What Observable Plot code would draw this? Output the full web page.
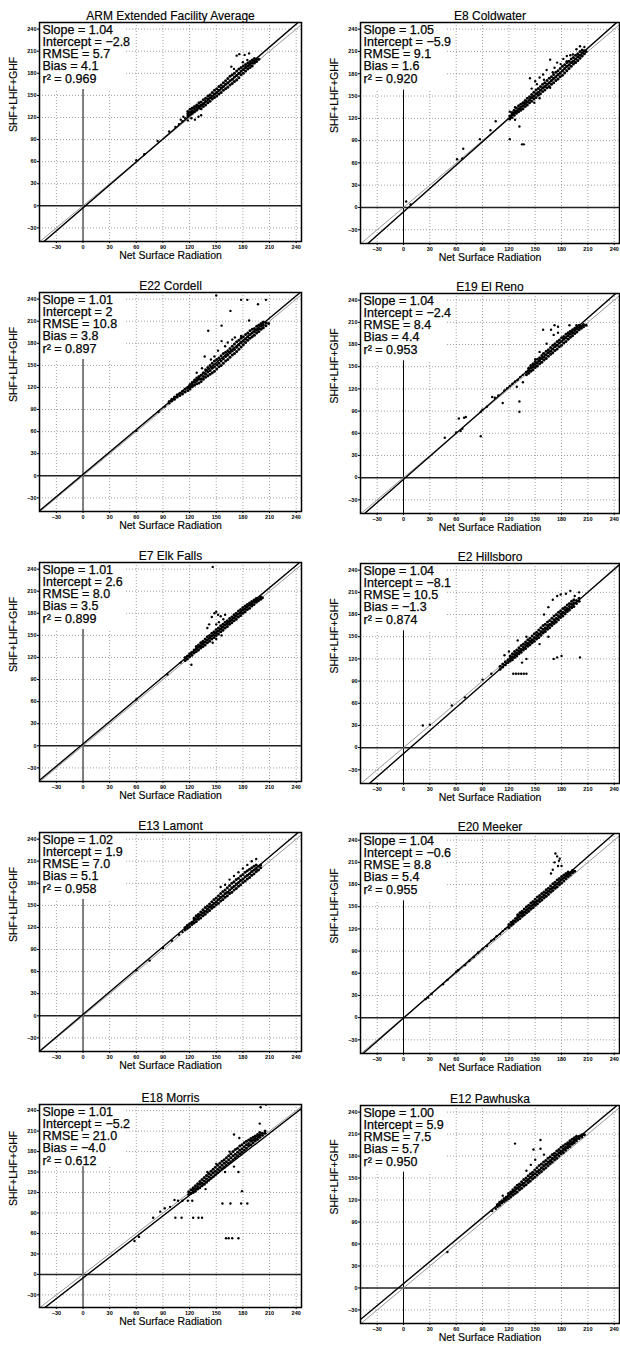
<!DOCTYPE html>
<html><head><meta charset="utf-8">
<script src="https://cdn.jsdelivr.net/npm/d3@7"></script>
<script src="https://cdn.jsdelivr.net/npm/@observablehq/plot@0.6"></script>
<style>
html,body{margin:0;padding:0;background:#fff;}
#root{position:relative;width:620px;height:1346px;overflow:hidden;font-family:"Liberation Sans",Arial,sans-serif;}
#root svg{position:absolute;overflow:visible;background:transparent;}
</style></head><body>
<div id="root"></div>
<script>
// ---- data ----
const titles = ["ARM Extended Facility Average","E8 Coldwater","E22 Cordell","E19 El Reno","E7 Elk Falls","E2 Hillsboro","E13 Lamont","E20 Meeker","E18 Morris","E12 Pawhuska"];
const slopes = [1.04,1.05,1.01,1.04,1.01,1.04,1.02,1.04,1.01,1.00];
const intercepts = ["−2.8","−5.9","2","−2.4","2.6","−8.1","1.9","−0.6","−5.2","5.9"];
const rmse = ["5.7","9.1","10.8","8.4","8.0","10.5","7.0","8.8","21.0","7.5"];
const bias = ["4.1","1.6","3.8","4.4","3.5","−1.3","5.1","5.4","−4.0","5.7"];
const r2 = ["0.969","0.920","0.897","0.953","0.899","0.874","0.958","0.955","0.612","0.950"];
const tickValues = [-30,0,30,60,90,120,150,180,210,240];
const xLabel = "Net Surface Radiation";
const yLabel = "SHF+LHF+GHF";

// dense clusters: each row is [x, y, y, ...] (points sharing one x)
const bandARM = [[118,122,125,128],[120.5,124,127,131],[123,126,129,133],[125.5,128,132,135],[128,130,134,137],[130.5,133,136,140],[133,132,137,141],[135.5,135,139,144],[138,137,142,146],[140.5,140,145,149],[143,142,147,151],[145.5,145,149,154],[148,147,152,157],[150.5,149,154,159],[153,152,157,162],[155.5,154,160,164],[158,157,162,167],[160.5,159,165,170],[163,161,167,173],[165.5,164,170,176],[168,166,172,178],[170.5,169,175,180],[173,171,177,183],[175.5,174,180,186],[178,178,183,188],[180.5,180,185,190],[183,183,188,192],[185.5,186,190,194],[188,188,192,196],[190.5,190,194,198],[193,194,197,200],[195.5,196,199],[198,199]];
const bandE8 = [[121,119,123],[123.5,121,125,128],[126,124,128,131],[128.5,127,130,134],[131,129,133,137],[133.5,131,135,139],[136,133,137,141],[138.5,136,140,144],[141,138,142,147],[143.5,141,145,149],[146,143,148,152],[148.5,146,150,155],[151,148,153,158],[153.5,151,155,160],[156,153,158,163],[158.5,156,161,166],[161,158,163,168],[163.5,161,166,171],[166,163,168,174],[168.5,166,171,176],[171,168,174,179],[173.5,171,176,182],[176,173,179,184],[178.5,176,181,187],[181,178,184,190],[183.5,181,187,192],[186,184,190,195],[188.5,187,192,197],[191,190,195,200],[193.5,193,197,202],[196,195,200,205],[198.5,198,203,207],[201,201,205,210],[203.5,204,208,212],[206,207,211],[208,210]];
const bandE22 = [[97,99,101],[100,102,104],[103,104,107],[106,107,110],[109,109,112],[112,111,115],[115,114,118],[118,116,120],[120.5,118,121,124],[123,121,124,127],[125.5,123,127,130],[128,125,129,133],[130.5,126,131,135],[133,128,132,137],[135.5,131,135,140],[138,134,138,144],[140.5,136,141,147],[143,138,143,150],[145.5,140,146,153],[148,142,148,156],[150.5,145,151,158],[153,148,153,160],[155.5,150,156,163],[158,153,159,166],[160.5,156,162,168],[163,158,164,170],[165.5,161,167,173],[168,164,170,176],[170.5,166,172,179],[173,169,175,182],[175.5,172,178,184],[178,175,181,187],[180.5,178,183,189],[183,181,186,192],[185.5,184,189,194],[188,187,192,197],[190.5,189,194,199],[193,191,196,200],[195.5,194,198,203],[198,196,200,205],[200.5,199,203,207],[203,201,205,209],[206,204,208],[209,207]];
const bandE19 = [[140,139,143],[142.5,141,145,148],[145,144,148,151],[147.5,146,150,154],[150,149,153,157],[152.5,151,155,160],[155,154,158,162],[157.5,156,161,165],[160,159,163,168],[162.5,161,166,171],[165,164,169,173],[167.5,167,171,176],[170,169,174,179],[172.5,172,177,181],[175,174,179,184],[177.5,177,182,186],[180,179,184,189],[182.5,182,187,191],[185,184,189,194],[187.5,187,192,196],[190,190,194,198],[192.5,192,196,200],[195,195,199,202],[197.5,197,201,204],[200,200,203,206],[202.5,202,205],[205,204,207],[208,206]];
const bandE7 = [[115,116,120],[117.5,118,122],[120,121,125],[122.5,123,127],[125,126,130],[127.5,128,132,135],[130,130,134,137],[132.5,133,136,140],[135,135,139,142],[137.5,137,141,145],[140,140,144,148],[142.5,142,146,150],[145,145,149,153],[147.5,147,151,155],[150,150,154,158],[152.5,152,156,160],[155,155,159,163],[157.5,157,161,165],[160,160,164,168],[162.5,162,166,170],[165,165,169,173],[167.5,167,171,175],[170,170,174,178],[172.5,172,176,180],[175,175,179,183],[177.5,177,181,185],[180,180,184,188],[182.5,182,186,190],[185,185,189,192],[187.5,187,191,194],[190,190,193,196],[192.5,192,196,198],[195,195,198,200],[197.5,197,200],[200,199,202],[202,201]];
const bandE2 = [[110,106,110],[113,109,113],[116,112,116],[119,115,119],[121.5,117,121,124],[124,119,123,127],[126.5,122,126,130],[129,124,128,132],[131.5,127,131,135],[134,129,133,138],[136.5,132,136,140],[139,134,139,143],[141.5,137,141,146],[144,139,144,148],[146.5,142,146,151],[149,144,149,154],[151.5,147,152,156],[154,149,154,159],[156.5,152,157,162],[159,155,160,165],[161.5,157,162,167],[164,160,165,170],[166.5,162,167,172],[169,165,170,175],[171.5,168,173,178],[174,170,175,180],[176.5,173,178,183],[179,176,181,185],[181.5,178,183,188],[184,181,186,190],[186.5,184,188,193],[189,186,191,195],[191.5,189,194,198],[194,191,196,200],[197,195,199],[200,198,202]];
const bandE13 = [[115,117,120],[117.5,119,123],[120,121,125],[122.5,124,127],[125,126,130,133],[127.5,128,132,136],[130,131,135,138],[132.5,133,137,141],[135,136,140,144],[137.5,138,142,147],[140,141,145,149],[142.5,143,148,152],[145,146,150,155],[147.5,148,153,158],[150,151,155,160],[152.5,153,158,163],[155,156,161,166],[157.5,158,163,169],[160,161,166,171],[162.5,163,168,174],[165,166,171,177],[167.5,168,174,180],[170,171,176,182],[172.5,173,179,185],[175,176,181,187],[177.5,178,184,190],[180,181,186,192],[182.5,183,189,195],[185,186,191,197],[187.5,188,193,199],[190,191,196,201],[192.5,193,198,203],[195,196,200,205],[197.5,198,203],[200,201,205]];
const bandE20 = [[120,122,126],[122.5,125,129],[125,127,131],[127.5,130,134],[130,132,136,139],[132.5,134,138,142],[135,137,141,144],[137.5,139,143,147],[140,142,146,150],[142.5,144,148,152],[145,147,151,155],[147.5,149,153,157],[150,152,156,160],[152.5,154,158,163],[155,157,161,165],[157.5,159,163,168],[160,162,166,170],[162.5,164,169,173],[165,167,171,175],[167.5,170,174,178],[170,172,176,181],[172.5,175,179,183],[175,177,181,186],[177.5,180,184,188],[180,182,187,191],[182.5,185,189,193],[185,188,192,195],[187.5,191,194,197],[190,193,196],[192.5,196,199],[195,198]];
const bandE18 = [[119,117,121],[121.5,119,124],[124,120,124,127],[126.5,122,126,130],[129,125,129,133],[131.5,127,132,136],[134,130,134,139],[136.5,132,137,142],[139,135,140,145],[141.5,138,143,148],[144,141,146,151],[146.5,143,149,154],[149,146,151,157],[151.5,149,154,160],[154,152,157,163],[156.5,155,160,166],[159,157,163,168],[161.5,160,165,171],[164,163,168,174],[166.5,165,171,177],[169,168,174,180],[171.5,171,176,183],[174,174,179,185],[176.5,177,182,188],[179,179,184,190],[181.5,182,187,193],[184,185,190,195],[186.5,188,192,197],[189,190,195,199],[191.5,193,197,201],[194,196,199,203],[196.5,198,202,205],[199,201,204,208],[202,204,207],[205,207,210]];
const bandE12 = [[107,111,114],[109.5,113,117],[112,116,119],[114.5,118,122],[117,120,124],[119.5,122,126,129],[122,124,128,131],[124.5,127,131,134],[127,129,133,137],[129.5,131,136,140],[132,134,138,142],[134.5,136,141,145],[137,139,143,148],[139.5,141,146,150],[142,144,148,153],[144.5,146,151,156],[147,149,154,158],[149.5,151,156,161],[152,154,159,164],[154.5,157,161,167],[157,159,164,169],[159.5,162,167,172],[162,164,169,174],[164.5,167,172,177],[167,170,174,179],[169.5,172,177,182],[172,175,180,184],[174.5,177,182,187],[177,180,185,189],[179.5,183,187,192],[182,185,190,194],[184.5,188,192,196],[187,191,195,198],[189.5,193,197,201],[192,196,199,203],[194.5,198,202,205],[197,201,204,207],[200,204,207],[203,206,209],[206,209]];

// scattered points [x, y]
const sparseARM = [[60,62],[69,70],[84,88],[97,101],[104,107],[108,111],[112,115],[115,119],[110,117],[113,121],[118,116],[122,119],[126,117],[130,121],[133,123],[167,189],[173,204],[176,206],[182,205],[187,207],[170,186],[180,195],[185,198]];
const sparseE8 = [[3,8],[8,4],[61,65],[67,66],[68,79],[87,92],[99,104],[105,116],[121,92],[132,109],[135,85],[137,85],[127,118],[121,129],[127,135],[137,141],[140,143],[144,174],[150,170],[155,175],[159,179],[167,199],[172,188],[175,195],[179,193],[186,197],[193,206],[197,213],[201,217],[206,216],[186,204],[155,147],[149,141],[167,161],[163,185],[182,200],[190,205],[146,160],[152,166],[160,172],[170,182]];
const sparseE22 = [[150,245],[178,239],[185,239],[206,239],[197,233],[166,224],[187,211],[156,204],[141,197],[137,162],[148,162],[156,183],[163,181],[171,188],[178,190],[144,158],[152,170],[160,176],[168,185],[128,140],[134,146],[92,94],[85,87],[60,61]];
const sparseE19 = [[47,54],[60,61],[63,80],[65,63],[67,66],[69,81],[71,82],[88,89],[90,92],[88,56],[95,96],[101,109],[104,108],[108,111],[113,101],[115,118],[118,121],[121,124],[124,127],[127,130],[130,132],[133,136],[136,139],[132,103],[132,89],[129,123],[136,129],[159,200],[168,200],[163,181],[171,193],[176,196],[159,168],[155,170],[176,204],[172,206],[189,206],[197,206],[150,160],[145,152]];
const sparseE7 = [[146,243],[60,63],[95,97],[110,113],[122,110],[145,175],[148,180],[150,182],[152,178],[155,176],[153,168],[158,172],[140,160],[142,165],[150,165],[160,178],[146,140],[150,145],[156,150]];
const sparseE2 = [[22,30],[30,31],[55,57],[70,68],[90,92],[100,100],[125,100],[128,100],[131,100],[134,100],[137,100],[140,100],[171,120],[175,122],[180,124],[201,122],[170,200],[175,205],[179,207],[185,208],[190,212],[195,205],[200,210],[165,190],[160,180],[130,145],[140,150],[120,130],[115,125],[135,115],[140,120],[155,140],[165,150]];
const sparseE13 = [[60,62],[75,75],[90,92],[100,102],[108,110],[112,114],[155,175],[165,185],[175,195],[185,205],[190,210],[195,213],[160,178],[170,190],[180,200]];
const sparseE20 = [[25,25],[28,27],[32,32],[45,45],[50,51],[60,62],[62,64],[70,71],[75,77],[80,82],[85,88],[90,93],[95,97],[100,104],[103,106],[106,110],[110,113],[113,117],[116,120],[170,200],[172,210],[175,218],[178,215],[176,205],[180,205],[173,222],[177,212],[168,195]];
const sparseE18 = [[58,49],[63,55],[79,83],[87,92],[92,97],[98,99],[103,109],[107,108],[104,83],[111,83],[124,83],[130,83],[134,83],[112,108],[118,108],[123,108],[124,122],[138,125],[157,104],[166,104],[178,104],[185,104],[161,53],[164,53],[168,53],[175,53],[179,122],[200,245],[206,249],[199,221],[170,205],[176,200],[160,150],[170,158],[175,150],[140,150],[150,162],[165,180]];
const sparseE12 = [[50,49],[101,105],[105,108],[113,126],[127,197],[148,189],[156,190],[156,202],[150,175],[145,168],[140,160],[160,182]];

const bands = [bandARM,bandE8,bandE22,bandE19,bandE7,bandE2,bandE13,bandE20,bandE18,bandE12];
const sparse = [sparseARM,sparseE8,sparseE22,sparseE19,sparseE7,sparseE2,sparseE13,sparseE20,sparseE18,sparseE12];

// ---- layout ----
const xDomain = [-49, 246], yDomain = [-48.5, 249];
const statsBox = {x2: 48, y1: 158};
const frameTops = [22,22,292,293,562,563,832,833,1104,1105];
const frameHeights = [219,221,219,220,219,220,219,220,203,218];

const root = document.getElementById("root");
titles.forEach((title, i) => {
  const col = i % 2;
  const left = col ? 321 : 0;
  const width = col ? 299 : 310;
  const mt = 22, mb = 30;
  const a = slopes[i];
  const b = +intercepts[i].replace("−","-");
  const stats = `Slope = ${slopes[i].toFixed(2)}\nIntercept = ${intercepts[i]}\nRMSE = ${rmse[i]}\nBias = ${bias[i]}\nr² = ${r2[i]}`;
  const ends = xDomain.map(x => ({x}));
  const bandPts = bands[i].flatMap(([x, ...ys]) => ys.map(y => [x, y]));
  const chart = Plot.plot({
    width, height: frameHeights[i] + mt + mb,
    marginTop: mt, marginBottom: mb, marginLeft: 39, marginRight: col ? 1 : 9,
    x: {domain: xDomain}, y: {domain: yDomain},
    style: {fontFamily: '"Liberation Sans", Arial, sans-serif', color: "black", background: "transparent"},
    marks: [
      Plot.gridX(tickValues.filter(v => v !== 0), {stroke: "#888", strokeOpacity: 1, strokeWidth: 0.8, strokeDasharray: "1 2"}),
      Plot.gridY(tickValues.filter(v => v !== 0), {stroke: "#888", strokeOpacity: 1, strokeWidth: 0.8, strokeDasharray: "1 2"}),
      Plot.ruleX([0], {stroke: "black", strokeWidth: 1}),
      Plot.ruleY([0], {stroke: "#222", strokeWidth: 1.5}),
      Plot.rect([statsBox], {x1: xDomain[0], x2: "x2", y1: "y1", y2: yDomain[1], fill: "white"}),
      Plot.line(ends, {x: "x", y: d => d.x, stroke: "#999", strokeWidth: 1, clip: true}),
      Plot.line(ends, {x: "x", y: d => a * d.x + b, stroke: "black", strokeWidth: 1.4, clip: true}),
      Plot.dot(bandPts, {x: d => d[0], y: d => d[1], r: 1.5, fill: "black", stroke: "none", clip: true}),
      Plot.dot(sparse[i], {x: d => d[0], y: d => d[1], r: 1.2, fill: "black", stroke: "none", clip: true}),
      Plot.frame({stroke: "black", strokeWidth: 1.5}),
      Plot.axisX(tickValues, {tickSize: 2, tickPadding: 1.5, fontSize: 5.5, fontWeight: "bold", label: null}),
      Plot.axisY(tickValues, {tickSize: 2, tickPadding: 1, fontSize: 5.5, fontWeight: "bold", label: null}),
      Plot.text([stats], {frameAnchor: "top-left", dx: 3, dy: 3, lineAnchor: "top", lineHeight: 0.97, fontSize: 12.5, fill: "black", stroke: "black", strokeWidth: 0.25}),
      Plot.text([title], {frameAnchor: "top", dy: -11, fontSize: 12, fill: "black", stroke: "black", strokeWidth: 0.15}),
      Plot.text([xLabel], {frameAnchor: "bottom", dy: 17, fontSize: 10.5, fill: "black", stroke: "black", strokeWidth: 0.15}),
      Plot.text([yLabel], {frameAnchor: "left", dx: -26, rotate: -90, fontSize: 10.5, fill: "black", stroke: "black", strokeWidth: 0.15})
    ]
  });
  chart.style.left = left + "px";
  chart.style.top = (frameTops[i] - mt) + "px";
  root.appendChild(chart);
});
</script>
</body></html>
